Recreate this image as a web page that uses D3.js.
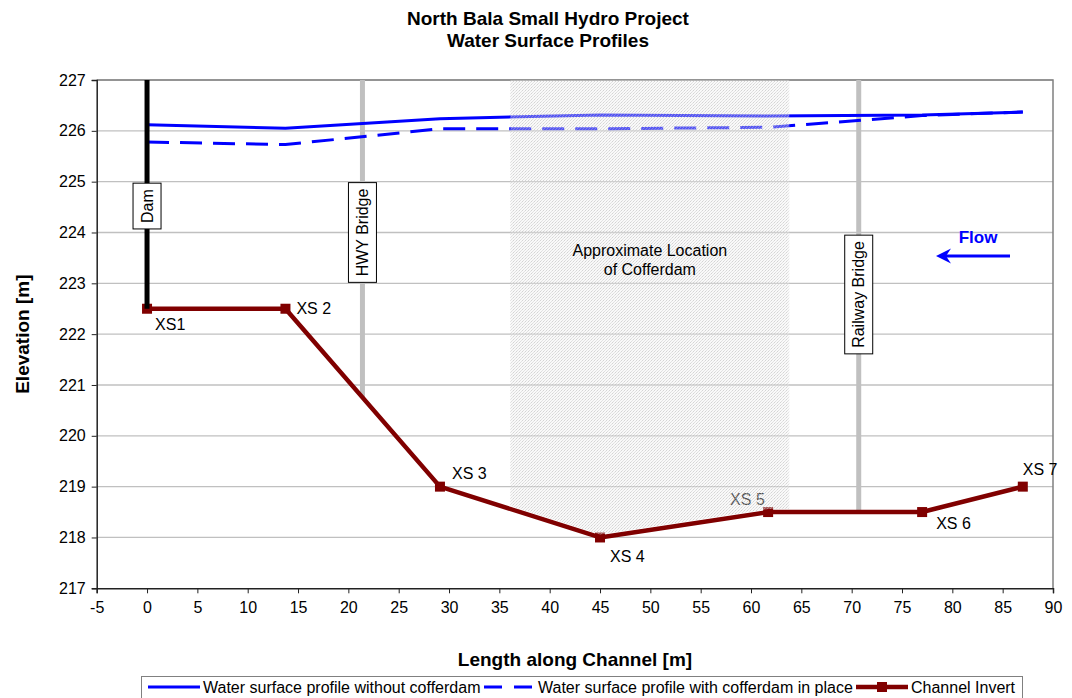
<!DOCTYPE html>
<html><head><meta charset="utf-8">
<script src="https://cdn.jsdelivr.net/npm/d3@7"></script>
<style>body{margin:0;background:#fff}svg{display:block;font-family:"Liberation Sans",Arial,sans-serif}</style>
</head><body>
<script>
// ---- data ----
const stations = [0, 13.75, 29.1, 45, 61.7, 77, 87];
const xsLabels = ["XS1", "XS 2", "XS 3", "XS 4", "XS 5", "XS 6", "XS 7"];
const wsNoCofferdam = [226.12, 226.05, 226.24, 226.31, 226.29, 226.31, 226.37];
const wsCofferdam = [225.78, 225.73, 226.04, 226.04, 226.07, 226.30, 226.37];
const channelInvert = [222.5, 222.5, 219, 218, 218.5, 218.5, 219];
const xTicks = d3.range(-5, 91, 5);
const yTicks = d3.range(217, 228, 1);
const structures = [
  {name: "Dam", x: 0, labelY: 224.52, color: "#000", to: 222.5},
  {name: "HWY Bridge", x: 21.4, labelY: 224.0, color: "#c0c0c0", to: 220.75},
  {name: "Railway Bridge", x: 70.7, labelY: 222.78, color: "#c0c0c0", to: 218.5}
];
const cofferdamRange = [36.1, 63.8];
const titleLines = ["North Bala Small Hydro Project", "Water Surface Profiles"];
const legendNames = ["Water surface profile without cofferdam", "Water surface profile with cofferdam in place", "Channel Invert"];

// ---- layout ----
const W = 1072, H = 698;
const L = 96.7, R = 1053, T = 80, B = 588.3;
const FS = 16;
const svg = d3.select("body").append("svg").attr("width", W).attr("height", H);
const x = d3.scaleLinear().domain([-5, 90]).range([L, R]);
const y = d3.scaleLinear().domain([217, 227]).range([B, T]);

const defs = svg.append("defs");
const pat = defs.append("pattern").attr("id", "stip").attr("patternUnits", "userSpaceOnUse")
  .attr("width", 3).attr("height", 3);
pat.append("rect").attr("width", 3).attr("height", 3).attr("fill", "rgba(238,238,238,0.35)");
pat.append("rect").attr("x", 0).attr("y", 0).attr("width", 1).attr("height", 1).attr("fill", "rgba(175,175,175,0.5)");
pat.append("rect").attr("x", 2).attr("y", 1).attr("width", 1).attr("height", 1).attr("fill", "rgba(200,200,200,0.45)");
pat.append("rect").attr("x", 1).attr("y", 2).attr("width", 1).attr("height", 1).attr("fill", "rgba(190,190,190,0.45)");

// title
svg.append("g").selectAll("text").data(titleLines).join("text")
  .attr("x", 548).attr("y", (d, i) => 25 + i * 22).attr("text-anchor", "middle")
  .attr("font-size", 19).attr("font-weight", "bold").text(d => d);

// gridlines
svg.append("g").selectAll("line").data(yTicks.slice(1)).join("line")
  .attr("x1", L).attr("x2", R).attr("y1", d => y(d)).attr("y2", d => y(d))
  .attr("stroke", "#c0c0c0").attr("stroke-width", 1.3);

// frame
svg.append("path").attr("d", `M${L},${T}H${R}V${B}`).attr("fill", "none").attr("stroke", "#808080").attr("stroke-width", 1.5);

// axes
const xAxis = svg.append("g").attr("transform", `translate(0,${B})`)
  .call(d3.axisBottom(x).tickValues(xTicks).tickSize(5).tickPadding(8).tickFormat(d3.format("d")));
const yAxis = svg.append("g").attr("transform", `translate(${L},0)`)
  .call(d3.axisLeft(y).tickValues(yTicks).tickSize(5).tickPadding(6).tickFormat(d3.format("d")));
[xAxis, yAxis].forEach(a => {
  a.select(".domain").attr("stroke", "#222").attr("stroke-width", 1.5);
  a.selectAll(".tick line").attr("stroke", "#222");
  a.selectAll("text").attr("font-size", FS).attr("fill", "#000").attr("font-family", "'Liberation Sans',Arial,sans-serif");
});
xAxis.selectAll("text").text(d => d < 0 ? "-" + Math.abs(d) : d);

// axis titles
svg.append("text").attr("x", 575).attr("y", 666).attr("text-anchor", "middle")
  .attr("font-size", 19).attr("font-weight", "bold").text("Length along Channel [m]");
svg.append("text").attr("transform", `translate(29,${(T + B) / 2}) rotate(-90)`).attr("text-anchor", "middle")
  .attr("font-size", 19).attr("font-weight", "bold").text("Elevation [m]");

const idx = d3.range(stations.length);

// bridge lines (behind)
structures.filter(s => s.name !== "Dam").forEach(s => {
  svg.append("line").attr("x1", x(s.x)).attr("x2", x(s.x)).attr("y1", y(227)).attr("y2", y(s.to))
    .attr("stroke", s.color).attr("stroke-width", 5);
});

// water surface lines
const line = (arr) => d3.line().x(i => x(stations[i])).y(i => y(arr[i]))(idx);
svg.append("path").attr("d", line(wsNoCofferdam)).attr("fill", "none").attr("stroke", "#0000ff").attr("stroke-width", 3);
svg.append("path").attr("d", line(wsCofferdam)).attr("fill", "none").attr("stroke", "#0000ff").attr("stroke-width", 3)
  .attr("stroke-dasharray", "22,11");

// invert
svg.append("path").attr("d", line(channelInvert)).attr("fill", "none").attr("stroke", "#800000").attr("stroke-width", 4.5)
  .attr("stroke-linejoin", "round");
svg.append("g").selectAll("rect").data(idx).join("rect")
  .attr("x", i => x(stations[i]) - 5).attr("y", i => y(channelInvert[i]) - 5).attr("width", 10).attr("height", 10)
  .attr("fill", "#800000");

// dam line on top
structures.filter(s => s.name === "Dam").forEach(s => {
  svg.append("line").attr("x1", x(s.x)).attr("x2", x(s.x)).attr("y1", y(227)).attr("y2", y(s.to))
    .attr("stroke", s.color).attr("stroke-width", 5);
});

// XS labels
const labelOffsets = [[8, 16], [11, 0], [12, -13], [10, 19], [-38, -13], [14, 11], [0, -17]];
svg.append("g").selectAll("text").data(idx).join("text")
  .attr("x", i => x(stations[i]) + labelOffsets[i][0]).attr("y", i => y(channelInvert[i]) + labelOffsets[i][1])
  .attr("dy", "0.35em").attr("font-size", FS).text(i => xsLabels[i]);

// cofferdam shading over everything
const interp = xv => {
  for (let i = 0; i < stations.length - 1; i++) {
    if (xv >= stations[i] && xv <= stations[i + 1]) {
      const t = (xv - stations[i]) / (stations[i + 1] - stations[i]);
      return channelInvert[i] + t * (channelInvert[i + 1] - channelInvert[i]);
    }
  }
};
const shadePts = [[cofferdamRange[0], interp(cofferdamRange[0])], [stations[3], channelInvert[3]], [stations[4], channelInvert[4]], [cofferdamRange[1], interp(cofferdamRange[1])]];
const area = d3.area().x(d => x(d[0])).y0(d => y(d[1]) - 3).y1(y(227));
svg.append("path").attr("d", area(shadePts)).attr("fill", "url(#stip)");

svg.append("g").selectAll("text").data(["Approximate Location", "of Cofferdam"]).join("text")
  .attr("x", x(d3.mean(cofferdamRange))).attr("y", (d, i) => 256 + i * 19).attr("text-anchor", "middle")
  .attr("font-size", FS).text(d => d);

// structure label boxes
structures.forEach(s => {
  const g = svg.append("g").attr("transform", `translate(${x(s.x)},${y(s.labelY)}) rotate(-90)`);
  const t = g.append("text").attr("text-anchor", "middle").attr("dy", "0.35em").attr("font-size", FS).text(s.name);
  const w = t.node().getComputedTextLength();
  g.insert("rect", "text").attr("x", -w / 2 - 6).attr("y", -14).attr("width", w + 12).attr("height", 28)
    .attr("fill", "#fff").attr("stroke", "#000").attr("stroke-width", 1);
});

// Flow arrow
svg.append("text").attr("x", 978).attr("y", 243).attr("text-anchor", "middle").attr("font-size", 17)
  .attr("font-weight", "bold").attr("fill", "#0000ff").text("Flow");
svg.append("line").attr("x1", 1010).attr("x2", 942).attr("y1", 256).attr("y2", 256).attr("stroke", "#0000ff").attr("stroke-width", 3);
svg.append("path").attr("d", "M936,256 L951,248.5 L946,256 L951,263.5 Z").attr("fill", "#0000ff");

// legend
const lg = svg.append("g");
lg.append("rect").attr("x", 141.5).attr("y", 676.5).attr("width", 881).attr("height", 30).attr("fill", "#fff").attr("stroke", "#808080");
const items = [{x0: 148, tx: 203, dash: null, color: "#0000ff", w: 3},
  {x0: 484, tx: 538, dash: "18,12", color: "#0000ff", w: 3},
  {x0: 856, tx: 911, dash: null, color: "#800000", w: 4.5, marker: true}];
items.forEach((it, i) => {
  lg.append("line").attr("x1", it.x0).attr("x2", it.x0 + 52).attr("y1", 687).attr("y2", 687)
    .attr("stroke", it.color).attr("stroke-width", it.w).attr("stroke-dasharray", it.dash);
  if (it.marker) lg.append("rect").attr("x", it.x0 + 21).attr("y", 682).attr("width", 10).attr("height", 10).attr("fill", "#800000");
  lg.append("text").attr("x", it.tx).attr("y", 693).attr("font-size", FS).text(legendNames[i]);
});
</script>
</body></html>
